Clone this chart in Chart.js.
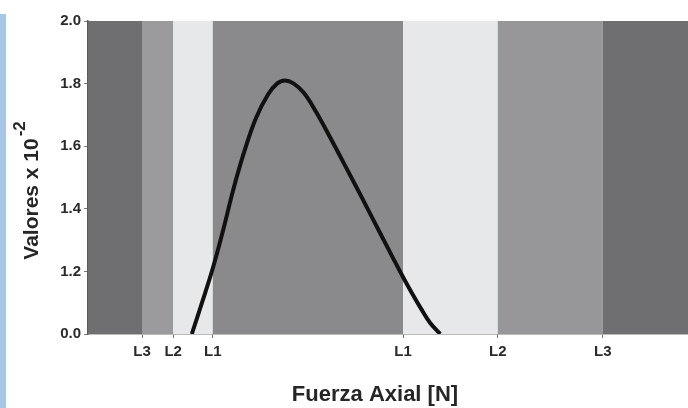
<!DOCTYPE html>
<html>
<head>
<meta charset="utf-8">
<script src="https://cdn.jsdelivr.net/npm/chart.js@4.4.1/dist/chart.umd.min.js"></script>
<style>
  html, body { margin: 0; padding: 0; background: #fff; }
  #wrap { position: relative; width: 688px; height: 408px; overflow: hidden; }
  #stripe { position: absolute; left: 0; top: 14px; width: 6px; height: 394px; background: #a6c7e7; }
  canvas { position: absolute; left: 0; top: 0; }
</style>
</head>
<body>
<div id="wrap">
  <canvas id="chart" width="688" height="408"></canvas>
  <div id="stripe"></div>
</div>
<script>
// curva (eje x en unidades arbitrarias 0-100, eje y con corte: 1.0 se muestra como 0.0)
const curveX = [17.3, 19.0, 20.8, 22.5, 24.2, 26.0, 28.0, 30.0, 31.5, 32.8, 34.3, 36.0, 38.0, 40.3, 43.2, 45.8, 48.7, 50.8, 52.5, 54.0, 55.5, 57.0, 58.7];
const curveY = [1.00, 1.10, 1.21, 1.33, 1.46, 1.58, 1.69, 1.765, 1.80, 1.81, 1.80, 1.77, 1.71, 1.63, 1.525, 1.43, 1.322, 1.244, 1.182, 1.13, 1.081, 1.036, 1.00];

// ticks
const xTickValues = [9, 14.2, 20.8, 52.5, 68.3, 85.8];
const xTickLabels = ['L3', 'L2', 'L1', 'L1', 'L2', 'L3'];
const yTickValues = [1.0, 1.2, 1.4, 1.6, 1.8, 2.0];
const yTickLabels = ['0.0', '1.2', '1.4', '1.6', '1.8', '2.0'];

// franjas de fondo
const bandEdges = [0, 9, 14.2, 20.8, 52.5, 68.3, 85.8, 100];
const bandColors = ['#6f6f71', '#9b9b9d', '#e7e8ea', '#8a8a8c', '#e7e8ea', '#97979a', '#6f6f71'];

const points = curveX.map((x, i) => ({ x: x, y: curveY[i] }));
const fontFam = '"Liberation Sans", Arial, sans-serif';

const bandsPlugin = {
    id: 'bands',
    beforeDatasetsDraw(chart) {
        const { ctx, chartArea, scales } = chart;
        ctx.save();
        for (let i = 0; i < bandColors.length; i++) {
            const x0 = scales.x.getPixelForValue(bandEdges[i]);
            const x1 = scales.x.getPixelForValue(bandEdges[i + 1]);
            ctx.fillStyle = bandColors[i];
            ctx.fillRect(x0, chartArea.top, x1 - x0, chartArea.bottom - chartArea.top);
        }
        ctx.restore();
    }
};

const titlesPlugin = {
    id: 'titles',
    afterDraw(chart) {
        const { ctx, chartArea } = chart;
        ctx.save();
        ctx.fillStyle = '#262626';
        // titulo eje x
        ctx.font = 'bold 22px ' + fontFam;
        ctx.textAlign = 'center';
        ctx.textBaseline = 'middle';
        ctx.fillText('Fuerza Axial [N]', chartArea.left + 287, 395);
        // titulo eje y con superindice
        ctx.translate(32, 199);
        ctx.rotate(-Math.PI / 2);
        ctx.font = 'bold 21px ' + fontFam;
        ctx.textAlign = 'center';
        ctx.fillText('Valores x 10', 0, 0);
        const w = ctx.measureText('Valores x 10').width;
        ctx.font = 'bold 17px ' + fontFam;
        ctx.textAlign = 'left';
        ctx.fillText('-2', w / 2 + 2, -12);
        ctx.restore();
    }
};

const ctx = document.getElementById('chart').getContext('2d');

new Chart(ctx, {
    type: 'line',
    data: {
        datasets: [{
            data: points,
            borderColor: '#111111',
            borderWidth: 4,
            pointRadius: 0,
            tension: 0.4,
            fill: false
        }]
    },
    options: {
        responsive: false,
        animation: false,
        layout: { padding: { top: 21, right: 0, left: 0, bottom: 0 } },
        plugins: {
            legend: { display: false },
            tooltip: { enabled: false }
        },
        scales: {
            x: {
                type: 'linear',
                min: 0,
                max: 100,
                afterFit: (scale) => { scale.height = 74; },
                afterBuildTicks: (scale) => { scale.ticks = xTickValues.map(v => ({ value: v })); },
                ticks: {
                    autoSkip: false,
                    maxRotation: 0,
                    padding: 5,
                    color: '#2a2a2a',
                    font: { family: fontFam, size: 15, weight: 'bold' },
                    callback: (v) => xTickLabels[xTickValues.indexOf(v)]
                },
                grid: { drawOnChartArea: false, tickLength: 4, color: '#7a7a7a', lineWidth: 1 },
                border: { color: '#7a7a7a', width: 1.5 }
            },
            y: {
                min: 1.0,
                max: 2.0,
                afterFit: (scale) => { scale.width = 88; },
                afterBuildTicks: (scale) => { scale.ticks = yTickValues.map(v => ({ value: v })); },
                ticks: {
                    padding: 3,
                    color: '#2a2a2a',
                    font: { family: fontFam, size: 15, weight: 'bold' },
                    callback: (v) => yTickLabels[yTickValues.indexOf(v)]
                },
                grid: { drawOnChartArea: false, tickLength: 4, color: '#7a7a7a', lineWidth: 1 },
                border: { color: '#5a5a5a', width: 1.5 }
            }
        }
    },
    plugins: [bandsPlugin, titlesPlugin]
});
</script>
</body>
</html>
